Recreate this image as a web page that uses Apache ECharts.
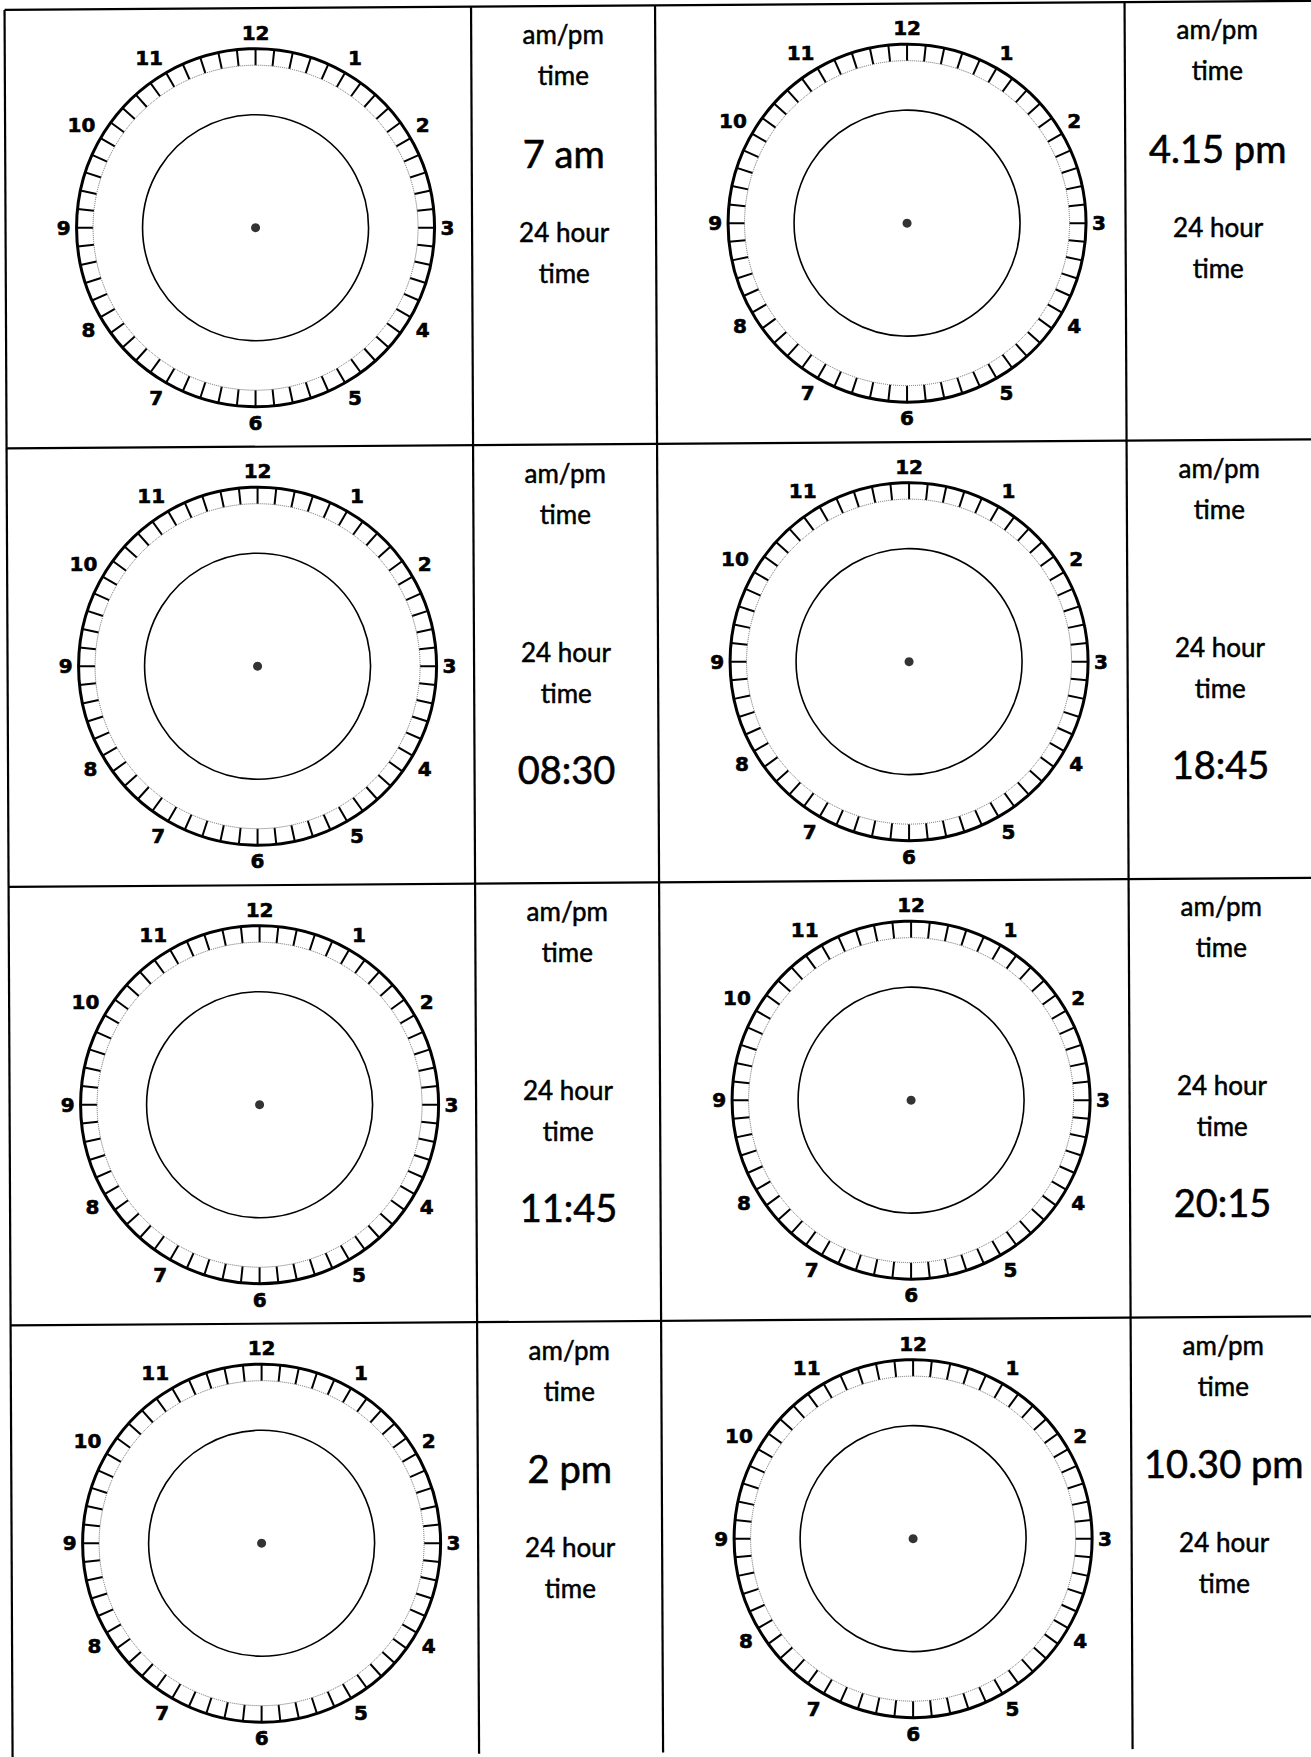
<!DOCTYPE html>
<html>
<head>
<meta charset="utf-8">
<script src="https://cdn.jsdelivr.net/npm/echarts@6/dist/echarts.min.js"></script>
<style>
  html, body { margin: 0; padding: 0; background: #ffffff; }
  #chart { width: 1311px; height: 1757px; }
</style>
</head>
<body>
<div id="chart"></div>
<script>
// ---------------- DATA ----------------
const hourLabels = ['12', '1', '2', '3', '4', '5', '6', '7', '8', '9', '10', '11'];
const minutesOnDial = 60;   // minute marks around each dial
const minutesPerHour = 5;   // minute marks between two hour numbers
const clockTimes = ['7 am', '4.15 pm', '08:30', '18:45', '11:45', '20:15', '2 pm', '10.30 pm'];
const givenFormat = ['ampm', 'ampm', '24h', '24h', '24h', '24h', 'ampm', 'ampm'];
const promptAmPm = ['am/pm', 'time'];
const prompt24 = ['24 hour', 'time'];

// ---------------- LAYOUT ----------------
const pageW = 1311, pageH = 1757;
const colLines = [4.5, 471, 655, 1124.5];
const rowLines = [10, 448.5, 887, 1325.5];
const clockX = [254.5, 906];
const clockDy = 219.5;
const textX = [563, 1217];
const rOuter = 179, rRing = 162.5, rInner = 113;
// text rows (offset from row top) for each kind of given value
const layoutAmPm = { prompts: [28, 69, 225.5, 266.5], value: 146.5 };
const layout24 = { prompts: [28, 69, 207, 248], value: 324 };
// scanned sheet is slightly skewed
function scan(x, y) { return [x + 0.0046 * y, y - 0.007 * x]; }

const polar = [], angleAxis = [], radiusAxis = [], series = [], graphic = [];

clockTimes.forEach(function (t, i) {
  const col = i % 2, row = Math.floor(i / 2);
  const c = scan(clockX[col], rowLines[row] + clockDy);
  const base = polar.length;
  polar.push({ center: c, radius: rOuter });
  polar.push({ center: c, radius: rRing });
  polar.push({ center: c, radius: rInner });

  angleAxis.push({
    polarIndex: base, type: 'value', min: 0, max: minutesOnDial, interval: 1,
    startAngle: 90, clockwise: true, silent: true,
    axisLine: { show: true, lineStyle: { color: '#000', width: 3 } },
    axisTick: { show: true, inside: true, length: rOuter - rRing, lineStyle: { color: '#000', width: 2 } },
    axisLabel: {
      show: true, margin: 6, color: '#000',
      fontFamily: 'DejaVu Sans', fontWeight: 'bold', fontSize: 20,
      textBorderColor: '#000', textBorderWidth: 0.6,
      formatter: function (v) {
        const m = Math.round(v);
        return (m % minutesPerHour === 0 && m < minutesOnDial) ? hourLabels[m / minutesPerHour] : '';
      }
    },
    splitLine: { show: false }, splitArea: { show: false }
  });
  angleAxis.push({
    polarIndex: base + 1, type: 'value', min: 0, max: minutesOnDial, startAngle: 90, silent: true,
    axisLine: { show: true, lineStyle: { color: '#666', width: 1, type: 'dotted' } },
    axisTick: { show: false }, axisLabel: { show: false }, splitLine: { show: false }
  });
  angleAxis.push({
    polarIndex: base + 2, type: 'value', min: 0, max: minutesOnDial, startAngle: 90, silent: true,
    axisLine: { show: true, lineStyle: { color: '#000', width: 1.6 } },
    axisTick: { show: false }, axisLabel: { show: false }, splitLine: { show: false }
  });
  for (let k = 0; k < 3; k++) {
    radiusAxis.push({ polarIndex: base + k, type: 'value', min: 0, max: 1, show: false });
  }
  series.push({
    type: 'scatter', coordinateSystem: 'polar', polarIndex: base,
    data: [[0, 0]], symbol: 'circle', symbolSize: 9, silent: true,
    itemStyle: { color: '#000' }
  });

  // text column
  const lay = givenFormat[i] === 'ampm' ? layoutAmPm : layout24;
  const texts = promptAmPm.concat(prompt24);
  texts.forEach(function (s, j) {
    const p = scan(textX[col], rowLines[row] + lay.prompts[j]);
    graphic.push({
      type: 'text', x: p[0], y: p[1], silent: true,
      style: { text: s, fill: '#000', stroke: '#000', lineWidth: 0.5, font: '26px Lato',
        textAlign: 'center', textVerticalAlign: 'middle', align: 'center', verticalAlign: 'middle' }
    });
  });
  const pv = scan(textX[col], rowLines[row] + lay.value);
  graphic.push({
    type: 'text', x: pv[0], y: pv[1], silent: true,
    style: { text: t, fill: '#000', stroke: '#000', lineWidth: 0.6, font: '38px Lato',
      textAlign: 'center', textVerticalAlign: 'middle', align: 'center', verticalAlign: 'middle' }
  });
});

// table lines
colLines.forEach(function (x) {
  const a = scan(x, rowLines[0]), b = scan(x, pageH);
  graphic.push({ type: 'line', silent: true, shape: { x1: a[0], y1: a[1], x2: b[0], y2: b[1] }, style: { stroke: '#000', lineWidth: 2.2 } });
});
rowLines.forEach(function (y) {
  const a = scan(colLines[0], y), b = scan(pageW, y);
  graphic.push({ type: 'line', silent: true, shape: { x1: a[0], y1: a[1], x2: b[0], y2: b[1] }, style: { stroke: '#000', lineWidth: 2.2 } });
});

const chart = echarts.init(document.getElementById('chart'), null, { renderer: 'svg', width: pageW, height: pageH });
chart.setOption({
  animation: false,
  backgroundColor: '#ffffff',
  polar: polar,
  angleAxis: angleAxis,
  radiusAxis: radiusAxis,
  series: series,
  graphic: { elements: graphic }
});
</script>
</body>
</html>
